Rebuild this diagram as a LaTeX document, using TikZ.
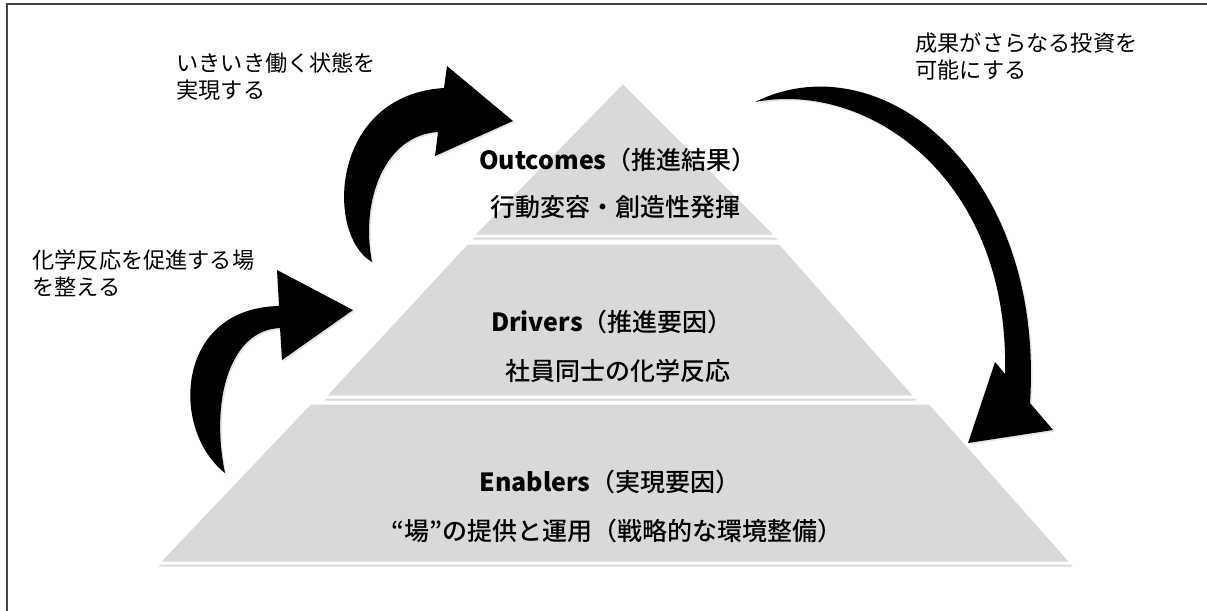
\documentclass[tikz,border=0pt]{standalone}
\usepackage{fontspec}
\setmainfont{Noto Sans CJK JP}
\IfFontExistsTF{Noto Sans CJK JP Medium}
    {\newfontfamily\chuvua{Noto Sans CJK JP Medium}}
    {\newfontfamily\chuvua{Noto Sans CJK JP}}
\IfFontExistsTF{Noto Sans CJK JP Black}
    {\newfontfamily\chudam{Noto Sans CJK JP Black}}
    {\newfontfamily\chudam{Noto Sans CJK JP}[FakeBold=2]}
\usepackage{xcolor}
\usetikzlibrary{calc, shadows}

\definecolor{tangxam}{HTML}{D9D9D9}
\definecolor{vienkhung}{HTML}{454545}

\tikzset{
    tang/.style={fill=tangxam, draw=white, line width=1.5pt, line join=round,
        drop shadow={shadow xshift=0.3pt, shadow yshift=-1.8pt, opacity=0.3}},
    muiten/.style={fill=black,
        drop shadow={shadow xshift=0.8pt, shadow yshift=-0.8pt, opacity=0.2}},
    tieude/.style={font=\chuvua\fontsize{12.5}{14}\selectfont, inner sep=0pt},
    ghichu/.style={font=\fontsize{11.1}{13.3}\selectfont, align=left,
        anchor=base west, inner sep=0pt}
}

\begin{document}
\begin{tikzpicture}[x=0.5pt, y=-0.5pt]
    \useasboundingbox (0,0) rectangle (1207,611);

    % =================================================================
    % PHẦN 1: KHUNG VIỀN VÀ BA TẦNG KIM TỰ THÁP
    % =================================================================
    \draw[vienkhung, line width=1pt] (7,611) -- (7,4) -- (1207,4);

    % Tầng trên (tam giác), tầng giữa và tầng đáy (hình thang)
    \coordinate (dinh) at (623,82);
    \draw[tang] (dinh) -- (777,236) -- (472,236) -- cycle;
    \draw[tang] (467,243) -- (780,243) -- (916,397) -- (324,397) -- cycle;
    \draw[tang] (310,403) -- (930,403) -- (1072,563) -- (158,563) -- cycle;

    % Chữ trong các tầng
    \node[tieude] (ketqua)   at (618,160) {{\chudam Outcomes}（推進結果）};
    \node[tieude] (ketquab)  at (615,207) {行動変容・創造性発揮};
    \node[tieude] (dongluc)  at (612,322) {{\chudam Drivers}（推進要因）};
    \node[tieude] (donglucb) at (618,371) {社員同士の化学反応};
    \node[tieude] (nentang)  at (610,482) {{\chudam Enablers}（実現要因）};
    \node[tieude] (nentangb) at (617,531) {“場”の提供と運用（戦略的な環境整備）};

    % =================================================================
    % PHẦN 2: CÁC MŨI TÊN CONG VÀ GHI CHÚ
    % =================================================================
    % Mũi tên trái dưới
    \fill[muiten] (225,473) .. controls (170,430) and (175,308) .. (279,306)
        -- (277,270) -- (353,310) -- (282,360) -- (280,328)
        .. controls (230,330) and (210,400) .. (225,473) -- cycle;

    % Mũi tên trái trên
    \fill[muiten] (372,262) .. controls (325,235) and (330,95) .. (444,88)
        -- (447,66) -- (513,121) -- (435,156) -- (438,132)
        .. controls (385,135) and (360,200) .. (372,262) -- cycle;

    % Mũi tên lớn bên phải
    \fill[muiten] (755,102) .. controls (880,40) and (1045,170) .. (1030,403)
        -- (1053,430) -- (968,443) -- (995,362) -- (1005,374)
        .. controls (1010,180) and (870,80) .. (755,102) -- cycle;

    % Ghi chú cạnh mũi tên
    \node[ghichu] (ghichua) at (176,98) {いきいき働く状態を\\実現する};
    \node[ghichu] (ghichub) at (32,295) {化学反応を促進する場\\を整える};
    \node[ghichu] (ghichuc) at (915,78) {成果がさらなる投資を\\可能にする};

\end{tikzpicture}
\end{document}
